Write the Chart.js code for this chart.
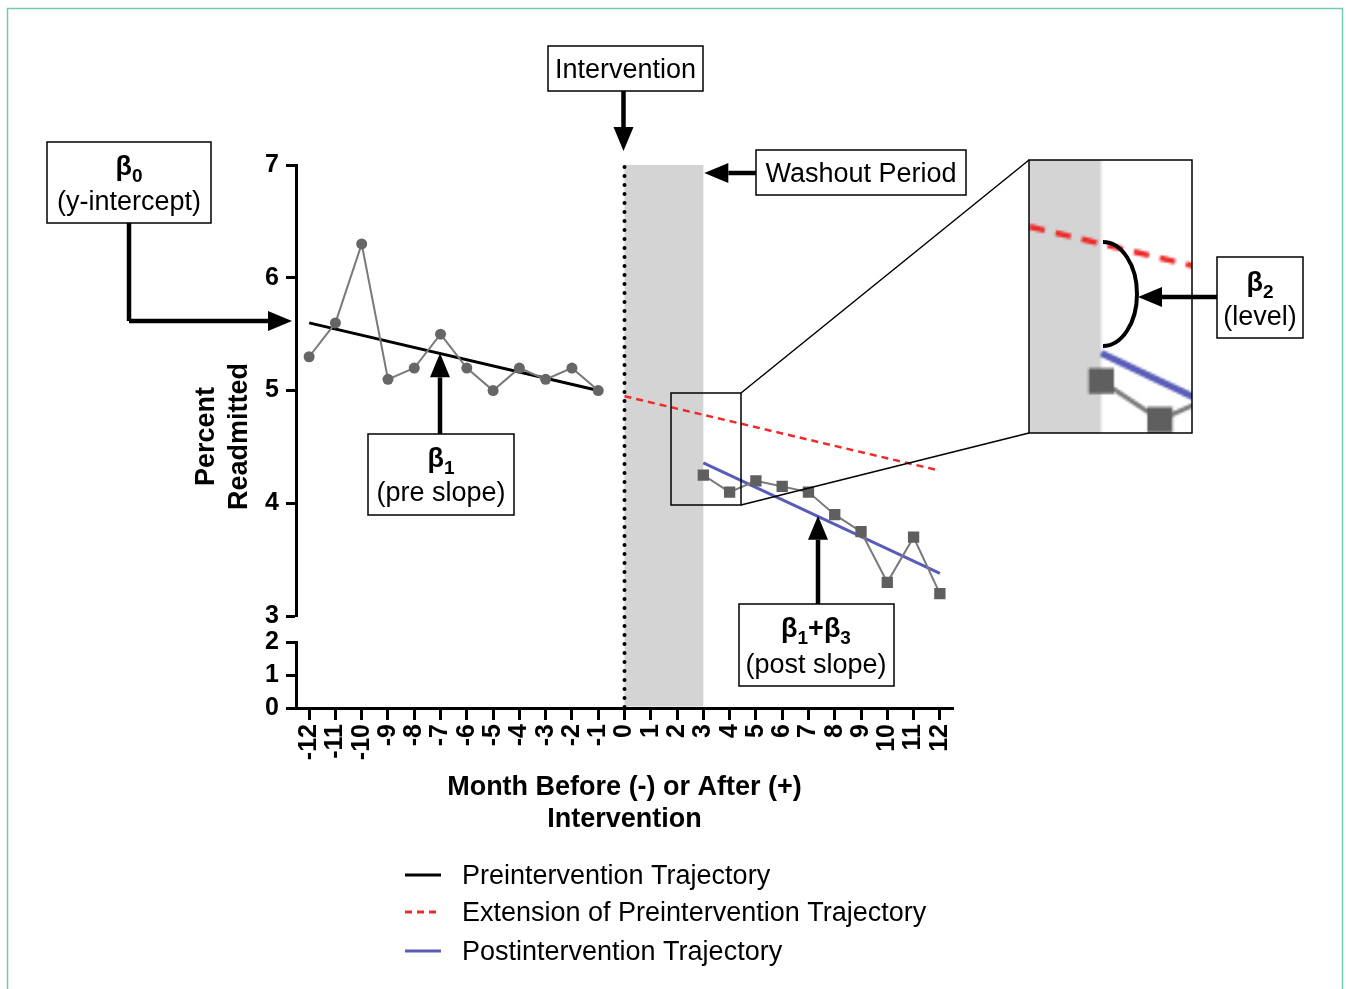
<!DOCTYPE html>
<html>
<head>
<meta charset="utf-8">
<script src="https://cdn.jsdelivr.net/npm/chart.js@4.4.0/dist/chart.umd.min.js"></script>
<style>
  html, body { margin: 0; padding: 0; background: #fff; }
  #wrap { position: relative; width: 1346px; height: 989px; overflow: hidden; }
  canvas { display: block; }
</style>
</head>
<body>
<div id="wrap"><canvas id="itsChart" width="1346" height="989"></canvas></div>
<script>
// ---- data ----
const preMonths = [-12, -11, -10, -9, -8, -7, -6, -5, -4, -3, -2, -1];
const preRates = [5.3, 5.6, 6.3, 5.1, 5.2, 5.5, 5.2, 5.0, 5.2, 5.1, 5.2, 5.0];
const postMonths = [3, 4, 5, 6, 7, 8, 9, 10, 11, 12];
const postRates = [4.25, 4.1, 4.2, 4.15, 4.1, 3.9, 3.75, 3.3, 3.7, 3.2];

const preTrendMonths = [-12, -1];
const preTrendRates = [5.6, 5.0];
const extensionMonths = [0, 12];
const extensionRates = [4.95, 4.29];
const postTrendMonths = [3, 12];
const postTrendRates = [4.36, 3.38];

const monthTicks = [-12, -11, -10, -9, -8, -7, -6, -5, -4, -3, -2, -1, 0, 1, 2, 3, 4, 5, 6, 7, 8, 9, 10, 11, 12];
const upperTicks = [3, 4, 5, 6, 7];
const lowerTicks = [0, 1, 2];
const washoutMonths = [0, 3];
const interventionMonth = 0;

const legendLabels = ['Preintervention Trajectory', 'Extension of Preintervention Trajectory', 'Postintervention Trajectory'];

const FONT = '"Liberation Sans", Arial, Helvetica, sans-serif';
Chart.defaults.font.family = FONT;
Chart.defaults.color = '#000';

function toPoints(xs, ys) {
    return xs.map(function (x, i) { return { x: x, y: ys[i] }; });
}

function arrowHead(ctx, x1, y1, x2, y2) {
    const ang = Math.atan2(y2 - y1, x2 - x1);
    const len = 24, half = 10;
    const bx = x2 - len * Math.cos(ang), by = y2 - len * Math.sin(ang);
    ctx.beginPath();
    ctx.moveTo(x1, y1);
    ctx.lineTo(bx, by);
    ctx.stroke();
    ctx.beginPath();
    ctx.moveTo(x2, y2);
    ctx.lineTo(bx + half * Math.sin(ang), by - half * Math.cos(ang));
    ctx.lineTo(bx - half * Math.sin(ang), by + half * Math.cos(ang));
    ctx.closePath();
    ctx.fill();
}

function drawArrow(ctx, pts) {
    ctx.save();
    ctx.strokeStyle = '#000';
    ctx.fillStyle = '#000';
    ctx.lineWidth = 4.5;
    ctx.lineJoin = 'miter';
    if (pts.length > 2) {
        ctx.beginPath();
        ctx.moveTo(pts[0][0], pts[0][1]);
        for (let i = 1; i < pts.length - 1; i++) ctx.lineTo(pts[i][0], pts[i][1]);
        ctx.stroke();
    }
    const a = pts[pts.length - 2], b = pts[pts.length - 1];
    arrowHead(ctx, a[0], a[1], b[0], b[1]);
    ctx.restore();
}

function drawBox(ctx, x, y, w, h) {
    ctx.save();
    ctx.fillStyle = '#fff';
    ctx.fillRect(x, y, w, h);
    ctx.strokeStyle = '#000';
    ctx.lineWidth = 1.5;
    ctx.strokeRect(x, y, w, h);
    ctx.restore();
}

function plainText(ctx, text, cx, cy, bold) {
    ctx.save();
    ctx.font = (bold ? 'bold ' : '') + '27px ' + FONT;
    ctx.fillStyle = '#000';
    ctx.textAlign = 'center';
    ctx.textBaseline = 'middle';
    ctx.fillText(text, cx, cy + 1.5);
    ctx.restore();
}

// parts: [text, isSubscript]
function betaText(ctx, parts, cx, cy) {
    const big = 'bold 27px ' + FONT, small = 'bold 19px ' + FONT;
    ctx.save();
    ctx.fillStyle = '#000';
    ctx.textAlign = 'left';
    ctx.textBaseline = 'alphabetic';
    let w = 0;
    parts.forEach(function (p) { ctx.font = p[1] ? small : big; w += ctx.measureText(p[0]).width; });
    let x = cx - w / 2;
    parts.forEach(function (p) {
        ctx.font = p[1] ? small : big;
        ctx.fillText(p[0], x, p[1] ? cy + 17 : cy + 10);
        x += ctx.measureText(p[0]).width;
    });
    ctx.restore();
}

const backgroundPlugin = {
    id: 'washout',
    beforeDatasetsDraw(chart) {
        const ctx = chart.ctx, xs = chart.scales.x, area = chart.chartArea;
        const x0 = xs.getPixelForValue(washoutMonths[0]), x1 = xs.getPixelForValue(washoutMonths[1]);
        ctx.save();
        ctx.fillStyle = '#d4d4d4';
        ctx.fillRect(x0, area.top, x1 - x0, area.bottom - area.top - 1.5);
        // dotted intervention line
        const xi = xs.getPixelForValue(interventionMonth);
        ctx.strokeStyle = '#000';
        ctx.lineWidth = 4;
        ctx.lineCap = 'round';
        ctx.setLineDash([0, 9]);
        ctx.beginPath();
        ctx.moveTo(xi, area.top + 2);
        ctx.lineTo(xi, area.bottom);
        ctx.stroke();
        ctx.restore();
    }
};

const annotationPlugin = {
    id: 'annotations',
    afterDraw(chart) {
        const ctx = chart.ctx, xs = chart.scales.x, ys = chart.scales.y, area = chart.chartArea;

        // snapshot the region that the inset magnifies
        const sx = 671, sy = 378, sw = 73, sh = 120;
        const off = document.createElement('canvas');
        off.width = sw; off.height = sh;
        off.getContext('2d').drawImage(chart.canvas, sx, sy, sw, sh, 0, 0, sw, sh);

        // y axis title
        const midY = (area.top + area.bottom) / 2;
        ctx.save();
        ctx.fillStyle = '#000';
        ctx.font = 'bold 27px ' + FONT;
        ctx.textAlign = 'center';
        ctx.textBaseline = 'middle';
        ctx.translate(area.left - 89, midY);
        ctx.rotate(-Math.PI / 2);
        ctx.fillText('Percent', 0, 0);
        ctx.fillText('Readmitted', 0, 33);
        ctx.restore();

        // small zoom rectangle and connectors
        ctx.save();
        ctx.strokeStyle = '#000';
        ctx.lineWidth = 1.5;
        ctx.strokeRect(671, 393, 70, 112);
        ctx.beginPath();
        ctx.moveTo(741, 393); ctx.lineTo(1029, 160);
        ctx.moveTo(741, 505); ctx.lineTo(1029, 433);
        ctx.stroke();
        // inset
        ctx.fillStyle = '#fff';
        ctx.fillRect(1029, 160, 163, 273);
        ctx.imageSmoothingEnabled = true;
        ctx.drawImage(off, 0, 0, sw, sh, 1029, 160, 163, 273);
        ctx.strokeRect(1029, 160, 163, 273);
        // level-change bracket
        ctx.lineWidth = 4;
        ctx.beginPath();
        ctx.ellipse(1103, 294, 34, 52, 0, -Math.PI / 2, Math.PI / 2);
        ctx.stroke();
        ctx.restore();

        // Intervention
        drawBox(ctx, 548, 46, 155, 45);
        plainText(ctx, 'Intervention', 625.5, 69);
        drawArrow(ctx, [[xs.getPixelForValue(interventionMonth) - 1, 91], [xs.getPixelForValue(interventionMonth) - 1, 151]]);

        // Washout
        drawBox(ctx, 756, 150, 210, 45);
        plainText(ctx, 'Washout Period', 861, 173);
        drawArrow(ctx, [[756, 173], [xs.getPixelForValue(washoutMonths[1]) + 1, 173]]);

        // beta0
        drawBox(ctx, 47, 142, 164, 81);
        betaText(ctx, [['\u03B2', false], ['0', true]], 129, 165);
        plainText(ctx, '(y-intercept)', 129, 201);
        drawArrow(ctx, [[129, 223], [129, 321], [292, 321]]);

        // beta1
        drawBox(ctx, 368, 434, 146, 81);
        betaText(ctx, [['\u03B2', false], ['1', true]], 441, 457);
        plainText(ctx, '(pre slope)', 441, 492);
        drawArrow(ctx, [[440, 434], [440, ys.getPixelForValue(5.33)]]);

        // beta1 + beta3
        drawBox(ctx, 739, 604, 155, 82);
        betaText(ctx, [['\u03B2', false], ['1', true], ['+', false], ['\u03B2', false], ['3', true]], 816, 627);
        plainText(ctx, '(post slope)', 816, 664);
        drawArrow(ctx, [[818, 604], [818, ys.getPixelForValue(3.89)]]);

        // beta2
        drawBox(ctx, 1217, 257, 86, 81);
        betaText(ctx, [['\u03B2', false], ['2', true]], 1260, 281);
        plainText(ctx, '(level)', 1260, 316);
        drawArrow(ctx, [[1217, 297], [1138, 297]]);

        // legend built from the trajectory datasets
        const legendY = [875, 912, 951];
        [2, 3, 4].forEach(function (di, i) {
            const ds = chart.data.datasets[di];
            ctx.save();
            ctx.strokeStyle = ds.borderColor;
            ctx.lineWidth = 3;
            ctx.setLineDash(ds.borderDash || []);
            ctx.beginPath();
            ctx.moveTo(405, legendY[i]);
            ctx.lineTo(441, legendY[i]);
            ctx.stroke();
            ctx.restore();
            ctx.save();
            ctx.font = '27px ' + FONT;
            ctx.fillStyle = '#000';
            ctx.textAlign = 'left';
            ctx.textBaseline = 'middle';
            ctx.fillText(legendLabels[i], 462, legendY[i] + 1.5);
            ctx.restore();
        });

        // outer frame
        ctx.save();
        ctx.strokeStyle = '#72cbb2';
        ctx.lineWidth = 1.5;
        ctx.strokeRect(7.5, 8.5, 1335, 1000);
        ctx.restore();
    }
};

const axisTickFont = { size: 25, weight: 'bold' };

new Chart(document.getElementById('itsChart').getContext('2d'), {
    type: 'line',
    data: {
        datasets: [
            {
                label: 'Pre',
                data: toPoints(preMonths, preRates),
                yAxisID: 'y',
                borderColor: '#7a7a7a',
                borderWidth: 2,
                pointBackgroundColor: '#666666',
                pointBorderWidth: 0,
                pointRadius: 5.5,
                tension: 0
            },
            {
                label: 'Post',
                data: toPoints(postMonths, postRates),
                yAxisID: 'y',
                borderColor: '#7a7a7a',
                borderWidth: 2,
                pointStyle: 'rect',
                pointBackgroundColor: '#5f5f5f',
                pointBorderWidth: 0,
                pointRadius: 8,
                tension: 0
            },
            {
                label: legendLabels[0],
                data: toPoints(preTrendMonths, preTrendRates),
                yAxisID: 'y',
                borderColor: '#000000',
                borderWidth: 3,
                pointRadius: 0
            },
            {
                label: legendLabels[1],
                data: toPoints(extensionMonths, extensionRates),
                yAxisID: 'y',
                borderColor: '#ee2a2a',
                borderWidth: 2.5,
                borderDash: [7, 5],
                pointRadius: 0
            },
            {
                label: legendLabels[2],
                data: toPoints(postTrendMonths, postTrendRates),
                yAxisID: 'y',
                borderColor: '#5a5db8',
                borderWidth: 3,
                pointRadius: 0
            }
        ]
    },
    options: {
        responsive: false,
        animation: false,
        layout: { padding: { left: 236, right: 393, top: 165, bottom: 153 } },
        plugins: {
            legend: { display: false },
            tooltip: { enabled: false }
        },
        scales: {
            x: {
                type: 'linear',
                position: 'bottom',
                min: -12.5,
                max: 12.5,
                afterBuildTicks: function (s) { s.ticks = monthTicks.map(function (v) { return { value: v }; }); },
                afterFit: function (s) { s.height = 128; },
                ticks: { autoSkip: false, minRotation: 90, maxRotation: 90, padding: 4, color: '#000', font: axisTickFont },
                grid: { drawOnChartArea: false, drawTicks: true, tickLength: 12, tickWidth: 3, tickColor: '#000' },
                border: { display: true, color: '#000', width: 3 },
                title: {
                    display: true,
                    text: ['Month Before (-) or After (+)', 'Intervention'],
                    color: '#000',
                    font: { size: 27, weight: 'bold', lineHeight: '32px' },
                    padding: 0
                }
            },
            y: {
                type: 'linear',
                position: 'left',
                stack: 'left',
                stackWeight: 452,
                weight: 3,
                min: 3,
                max: 7,
                afterBuildTicks: function (s) { s.ticks = upperTicks.map(function (v) { return { value: v }; }); },
                afterFit: function (s) { s.width = 60; },
                ticks: { autoSkip: false, padding: 7, color: '#000', font: axisTickFont },
                grid: { drawOnChartArea: false, drawTicks: true, tickLength: 10, tickWidth: 3, tickColor: '#000' },
                border: { display: true, color: '#000', width: 3 }
            },
            yGap: {
                type: 'linear',
                position: 'left',
                stack: 'left',
                stackWeight: 26,
                weight: 2,
                min: 0,
                max: 1,
                afterFit: function (s) { s.width = 60; },
                ticks: { display: false },
                grid: { display: false },
                border: { display: false }
            },
            yLow: {
                type: 'linear',
                position: 'left',
                stack: 'left',
                stackWeight: 66,
                weight: 1,
                min: 0,
                max: 2,
                afterBuildTicks: function (s) { s.ticks = lowerTicks.map(function (v) { return { value: v }; }); },
                afterFit: function (s) { s.width = 60; },
                ticks: { autoSkip: false, padding: 7, color: '#000', font: axisTickFont },
                grid: { drawOnChartArea: false, drawTicks: true, tickLength: 10, tickWidth: 3, tickColor: '#000' },
                border: { display: true, color: '#000', width: 3 }
            }
        }
    },
    plugins: [backgroundPlugin, annotationPlugin]
});
</script>
</body>
</html>
